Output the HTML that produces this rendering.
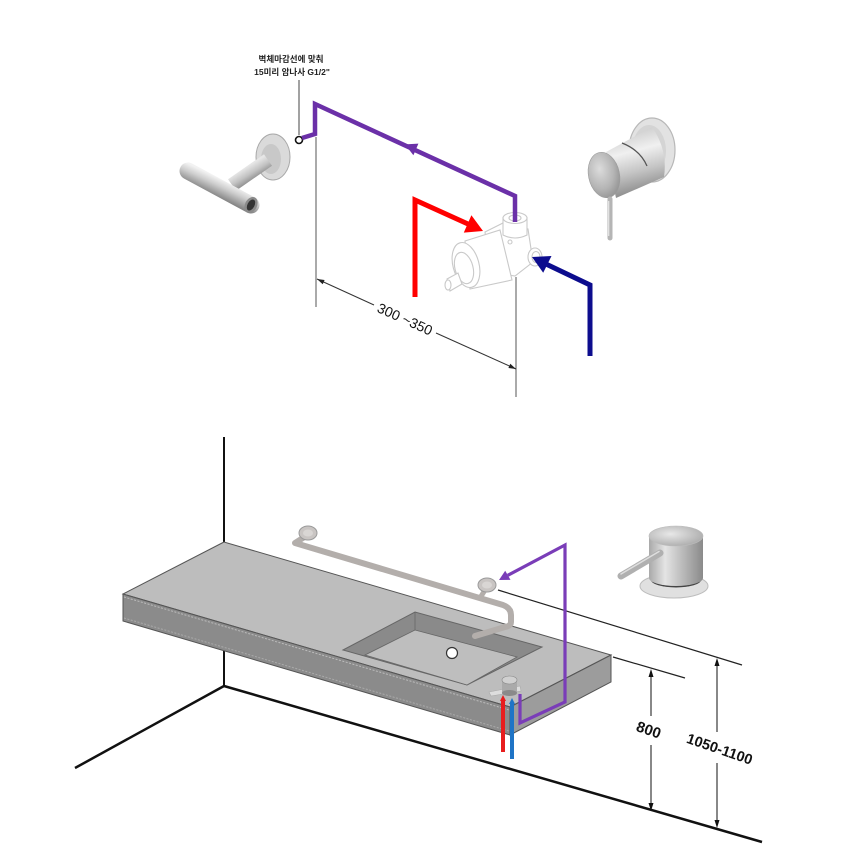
<!DOCTYPE html>
<html><head><meta charset="utf-8"><style>
html,body{margin:0;padding:0;background:#fff;}
svg{display:block;}
text{font-family:"Liberation Sans","Noto Sans CJK KR",sans-serif;}
</style></head><body>
<svg width="842" height="868" viewBox="0 0 842 868" xmlns="http://www.w3.org/2000/svg">
<defs>
<linearGradient id="tbar" gradientUnits="userSpaceOnUse" x1="222.8" y1="180" x2="215.2" y2="196">
<stop offset="0" stop-color="#f2f2f2"/><stop offset="0.4" stop-color="#cdcdcd"/><stop offset="1" stop-color="#858585"/></linearGradient>
<linearGradient id="arm" gradientUnits="userSpaceOnUse" x1="250" y1="165" x2="258" y2="178">
<stop offset="0" stop-color="#e6e6e6"/><stop offset="0.5" stop-color="#c2c2c2"/><stop offset="1" stop-color="#8a8a8a"/></linearGradient>
<linearGradient id="body1" gradientUnits="userSpaceOnUse" x1="625" y1="135" x2="640" y2="192">
<stop offset="0" stop-color="#d2d2d2"/><stop offset="0.3" stop-color="#f0f0f0"/><stop offset="0.65" stop-color="#c4c4c4"/><stop offset="1" stop-color="#8e8e8e"/></linearGradient>
<radialGradient id="face1" cx="0.4" cy="0.35" r="0.75">
<stop offset="0" stop-color="#dcdcdc"/><stop offset="0.6" stop-color="#b4b4b4"/><stop offset="1" stop-color="#8c8c8c"/></radialGradient>
<linearGradient id="body2" x1="0" y1="0" x2="1" y2="0">
<stop offset="0" stop-color="#a9a9a9"/><stop offset="0.3" stop-color="#e4e4e4"/><stop offset="0.6" stop-color="#bdbdbd"/><stop offset="1" stop-color="#8a8a8a"/></linearGradient>
<radialGradient id="top2" cx="0.4" cy="0.4" r="0.7">
<stop offset="0" stop-color="#e8e8e8"/><stop offset="1" stop-color="#a8a8a8"/></radialGradient>
</defs>

<!-- ===== TOP SECTION ===== -->
<text x="291" y="62" font-size="8.5" font-weight="bold" text-anchor="middle" fill="#222">벽체마감선에 맞춰</text>
<text x="292" y="75" font-size="8.5" font-weight="bold" text-anchor="middle" fill="#222">15미리 암나사 G1/2"</text>
<line x1="299" y1="80" x2="299" y2="135" stroke="#444" stroke-width="1"/>

<!-- shower arm left -->
<ellipse cx="273" cy="157" rx="17" ry="23" fill="#dadada" stroke="#a8a8a8" stroke-width="1"/>
<ellipse cx="271" cy="159" rx="10" ry="15" fill="#c8c8c8"/>
<line x1="268" y1="160" x2="232" y2="185" stroke="url(#arm)" stroke-width="14"/>
<line x1="188" y1="171" x2="251" y2="205" stroke="url(#tbar)" stroke-width="17" stroke-linecap="round"/>
<ellipse cx="251" cy="205" rx="6" ry="8.5" transform="rotate(28 251 205)" fill="#8a8a8a"/>
<ellipse cx="251" cy="205" rx="3.5" ry="6" transform="rotate(28 251 205)" fill="#333"/>

<!-- right mixer top -->
<ellipse cx="652" cy="150" rx="23" ry="32" fill="#e2e2e2" stroke="#b8b8b8" stroke-width="1.2"/>
<ellipse cx="649" cy="151" rx="17" ry="26" fill="#d4d4d4"/>
<path d="M606,152 L652,127 Q668,150 664,177 L616,198 Z" fill="url(#body1)"/>
<path d="M622,143 Q640,150 647,166" fill="none" stroke="#555" stroke-width="1.3"/>
<ellipse cx="604" cy="175" rx="15.5" ry="23" transform="rotate(-12 604 175)" fill="url(#face1)" stroke="#9a9a9a" stroke-width="0.6"/>
<line x1="610" y1="199" x2="610" y2="238" stroke="#b5b5b5" stroke-width="5" stroke-linecap="round"/>
<line x1="608.7" y1="201" x2="608.7" y2="236" stroke="#e8e8e8" stroke-width="1.2"/>

<!-- valve body (light outline) -->
<g fill="#fff" stroke="#c9c9c9" stroke-width="1.1">
<path d="M485,232 L503,223 L528,229 L533,262 L515,276 L490,272 Z"/>
<path d="M503,217 L503,235 Q515,241 527,235 L527,217"/>
<ellipse cx="515" cy="218" rx="12" ry="5.5"/>
<ellipse cx="515" cy="218" rx="6" ry="3"/>
<path d="M465,241 L500,230 L512,280 L470,289 Z"/>
<ellipse cx="466" cy="265" rx="13" ry="23" transform="rotate(-15 466 265)"/>
<ellipse cx="464" cy="268" rx="9" ry="16" transform="rotate(-15 464 268)"/>
<path d="M447,279 L458,273 L462,284 L450,291 Z"/>
<ellipse cx="448" cy="285" rx="3" ry="5"/>
<ellipse cx="535" cy="257" rx="7" ry="9"/>
<ellipse cx="536" cy="257" rx="4" ry="5.5"/>
<circle cx="510" cy="242" r="2"/>
</g>

<!-- purple top -->
<circle cx="299" cy="140" r="3.5" fill="#fff" stroke="#111" stroke-width="1.6"/>
<polyline points="302,138 315,134 315,104 515,196 515,222" fill="none" stroke="#6b30a8" stroke-width="4.5" stroke-linejoin="miter"/>
<polygon points="405,144.4 418.4,143.6 413.4,155.2" fill="#6b30a8"/>

<!-- red -->
<polyline points="415,297 415,200 468,224" fill="none" stroke="#ff0000" stroke-width="5" stroke-linejoin="miter"/>
<polygon points="483,231 463.8,232.6 471.4,215.2" fill="#ff0000"/>

<!-- blue -->
<polyline points="590,356 590,285 547,264.5" fill="none" stroke="#0c0c8e" stroke-width="5" stroke-linejoin="miter"/>
<polygon points="532,257 551.5,256 543.2,272.8" fill="#0c0c8e"/>

<!-- top dimension -->
<line x1="316" y1="137" x2="316" y2="307" stroke="#555" stroke-width="1"/>
<line x1="516" y1="277" x2="516" y2="397" stroke="#555" stroke-width="1"/>
<line x1="317" y1="279" x2="374" y2="305" stroke="#333" stroke-width="1"/>
<line x1="436" y1="333" x2="516" y2="369" stroke="#333" stroke-width="1"/>
<polygon points="317,279 324.6,280 322.7,284.2" fill="#222"/>
<polygon points="516,369 508.4,368 510.3,363.8" fill="#222"/>
<text x="405" y="324" font-size="14" text-anchor="middle" fill="#111" transform="rotate(24.3 405 319)">300 ~350</text>

<!-- ===== BOTTOM SECTION ===== -->
<line x1="224" y1="437" x2="224" y2="543" stroke="#111" stroke-width="2"/>
<line x1="224" y1="640" x2="224" y2="686" stroke="#111" stroke-width="2"/>
<line x1="224" y1="686" x2="762" y2="842" stroke="#111" stroke-width="2.5"/>
<line x1="224" y1="686" x2="75" y2="768" stroke="#111" stroke-width="2.5"/>

<line x1="498" y1="590" x2="742" y2="665" stroke="#222" stroke-width="1.2"/>
<line x1="613" y1="657" x2="685" y2="678" stroke="#222" stroke-width="1.2"/>

<!-- counter -->
<polygon points="224,542 123,594 510,707 611,655" fill="#bdbdbd" stroke="#555" stroke-width="1"/>
<polygon points="123,594 510,707 510,735 123,621" fill="#8b8b8b" stroke="#555" stroke-width="1"/>
<polygon points="510,707 611,655 611,682 510,735" fill="#9c9c9c" stroke="#555" stroke-width="1"/>
<line x1="124" y1="597" x2="509" y2="710" stroke="#bbb" stroke-width="1" stroke-dasharray="2,1.5"/>
<line x1="124" y1="618" x2="509" y2="731" stroke="#aaa" stroke-width="1" stroke-dasharray="2,1.5"/>

<!-- sink -->
<polygon points="343,650 415,612 542,647 467,685" fill="#8a8a8a" stroke="#666" stroke-width="1"/>
<polygon points="365,655 415,630 517,657 467,685" fill="#bebebe" stroke="#666" stroke-width="0.8"/>
<line x1="415" y1="612" x2="415" y2="630" stroke="#666" stroke-width="0.8"/>
<circle cx="452" cy="653" r="5.5" fill="#fff" stroke="#333" stroke-width="1.2"/>

<!-- gray pipe -->
<path d="M306,536 L295,543 L503,605 Q511,608 511,615 L511,622 Q511,626 505,627 L475,636" fill="none" stroke="#b3aeab" stroke-width="6" stroke-linejoin="round" stroke-linecap="round"/>
<ellipse cx="308" cy="533" rx="9" ry="7" fill="#c9c5c3" stroke="#9a9a9a" stroke-width="1"/>
<ellipse cx="308" cy="533" rx="5" ry="3.5" fill="#d9d6d4"/>
<line x1="485" y1="590" x2="480" y2="598" stroke="#b3aeab" stroke-width="5"/>
<ellipse cx="487" cy="585" rx="9" ry="7" fill="#c9c5c3" stroke="#9a9a9a" stroke-width="1"/>
<ellipse cx="487" cy="585" rx="5" ry="3.5" fill="#d9d6d4"/>

<!-- small valve on counter -->
<path d="M489,692 L520,686 L521,691 L491,696 Z" fill="#ddd" stroke="#aaa" stroke-width="0.6"/>
<rect x="502" y="680" width="15" height="13" fill="#aaa"/>
<ellipse cx="509.5" cy="680" rx="7.5" ry="4" fill="#d0d0d0" stroke="#888" stroke-width="0.6"/>
<ellipse cx="509.5" cy="693" rx="7.5" ry="3" fill="#8a8a8a"/>

<!-- red/blue small pipes -->
<line x1="503" y1="699" x2="503" y2="752" stroke="#e81d1d" stroke-width="4"/>
<polygon points="500,701 503,695 506,701" fill="#e81d1d"/>
<line x1="512" y1="702" x2="512" y2="759" stroke="#1f74c6" stroke-width="4"/>
<polygon points="509,704 512,698 515,704" fill="#1f74c6"/>

<!-- purple bottom -->
<polyline points="520,694 520,723 565,702 565,545 507.8,575.3" fill="none" stroke="#7a3db8" stroke-width="3.2" stroke-linejoin="miter"/>
<polygon points="499,580 510.5,579.9 505.2,570.7" fill="#7a3db8"/>

<!-- bottom mixer -->
<ellipse cx="674" cy="586" rx="34" ry="12" fill="#e0e0e0" stroke="#bdbdbd" stroke-width="1"/>
<ellipse cx="676" cy="580" rx="25" ry="7.5" fill="#444"/>
<rect x="649" y="536" width="54" height="42" fill="url(#body2)"/>
<ellipse cx="676" cy="578" rx="27" ry="8" fill="url(#body2)"/>
<ellipse cx="676" cy="536" rx="27" ry="10" fill="url(#top2)" stroke="#bbb" stroke-width="0.6"/>
<line x1="621" y1="576" x2="660" y2="553" stroke="#b0b0b0" stroke-width="7" stroke-linecap="round"/>
<line x1="621" y1="574" x2="659" y2="551.5" stroke="#dedede" stroke-width="1.5" stroke-linecap="round"/>

<!-- 800 dimension -->
<line x1="651" y1="672" x2="651" y2="716" stroke="#111" stroke-width="1"/>
<line x1="651" y1="745" x2="651" y2="808" stroke="#111" stroke-width="1"/>
<polygon points="651,669 648.5,677 653.5,677" fill="#111"/>
<polygon points="651,811 648.5,803 653.5,803" fill="#111"/>
<text x="649" y="735" font-size="15" font-weight="bold" text-anchor="middle" fill="#111" font-family="DejaVu Sans, sans-serif" transform="rotate(19 649 729)">800</text>

<!-- 1050-1100 dimension -->
<line x1="717" y1="661" x2="717" y2="732" stroke="#111" stroke-width="1"/>
<line x1="717" y1="763" x2="717" y2="825" stroke="#111" stroke-width="1"/>
<polygon points="717,658 714.5,666 719.5,666" fill="#111"/>
<polygon points="717,828 714.5,820 719.5,820" fill="#111"/>
<text x="720" y="754" font-size="14.5" font-weight="bold" text-anchor="middle" fill="#111" font-family="DejaVu Sans, sans-serif" transform="rotate(19 720 748)">1050-1100</text>
</svg>
</body></html>
